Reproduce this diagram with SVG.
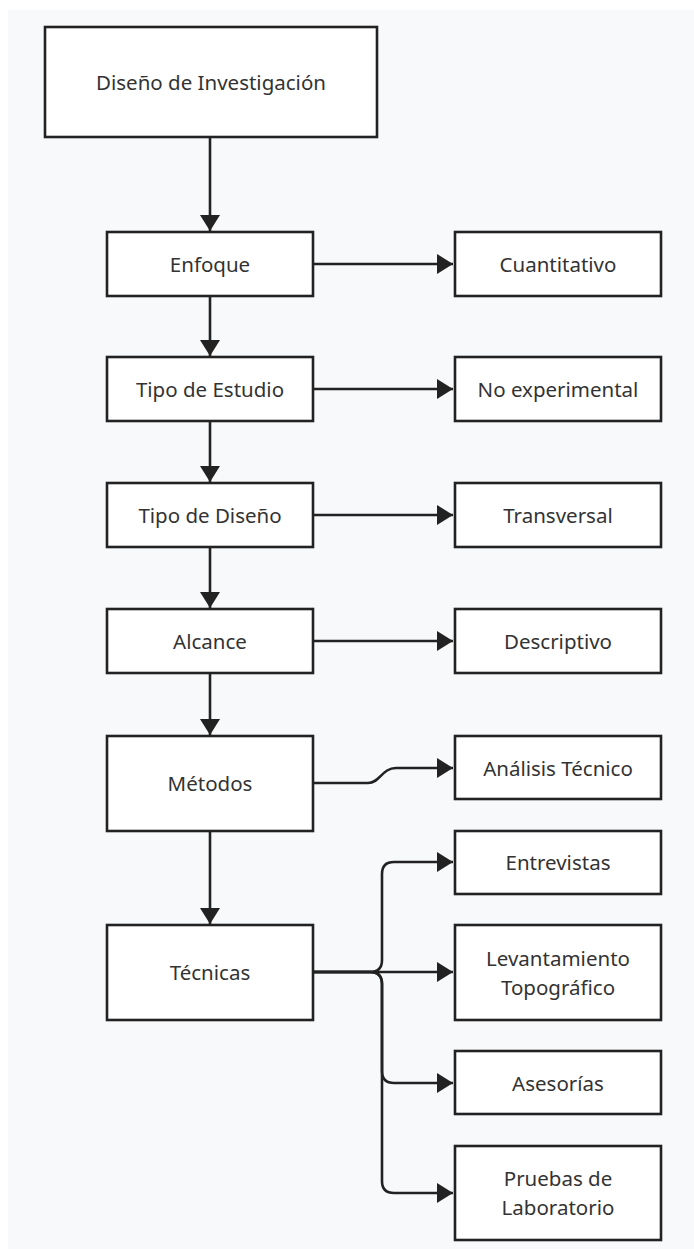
<svg xmlns="http://www.w3.org/2000/svg" width="694" height="1249" viewBox="0 0 694 1249">
<style>
.box{fill:#ffffff;stroke:#222222;stroke-width:2.6}
.lbl{font-family:"Noto Sans","Open Sans","DejaVu Sans",sans-serif;font-size:20.5px;fill:#333333;text-anchor:middle;dominant-baseline:central}
.edge{fill:none;stroke:#222222;stroke-width:2.6}
</style>
<defs>
<marker id="arr" markerUnits="userSpaceOnUse" markerWidth="16" markerHeight="20" viewBox="0 0 16 20" refX="16" refY="10" orient="auto">
<path d="M0,0 L16,10 L0,20 z" fill="#222222"/>
</marker>
</defs>
<rect x="0" y="0" width="694" height="1249" fill="#ffffff"/>
<rect x="8" y="10" width="686" height="1239" fill="#f8f9fb"/>
<g id="connectors">
<path class="edge" d="M210,137 L210,231" marker-end="url(#arr)"/>
<path class="edge" d="M210,296 L210,356" marker-end="url(#arr)"/>
<path class="edge" d="M210,421 L210,482" marker-end="url(#arr)"/>
<path class="edge" d="M210,547 L210,608" marker-end="url(#arr)"/>
<path class="edge" d="M210,673 L210,735" marker-end="url(#arr)"/>
<path class="edge" d="M210,831 L210,924" marker-end="url(#arr)"/>
<path class="edge" d="M313,264 L453,264" marker-end="url(#arr)"/>
<path class="edge" d="M313,389 L453,389" marker-end="url(#arr)"/>
<path class="edge" d="M313,515 L453,515" marker-end="url(#arr)"/>
<path class="edge" d="M313,641 L453,641" marker-end="url(#arr)"/>
<path class="edge" d="M313,783 L368,783 C380,783 382,768 396,768 L453,768" marker-end="url(#arr)"/>
<path class="edge" d="M313,972 L453,972" marker-end="url(#arr)"/>
<path class="edge" d="M313,972 L370,972 Q382,972 382,960 L382,874 Q382,862 394,862 L453,862" marker-end="url(#arr)"/>
<path class="edge" d="M313,972 L370,972 Q382,972 382,984 L382,1071 Q382,1083 394,1083 L453,1083" marker-end="url(#arr)"/>
<path class="edge" d="M313,972 L370,972 Q382,972 382,984 L382,1181 Q382,1193 394,1193 L453,1193" marker-end="url(#arr)"/>
</g>
<g id="n-diseno"><rect class="box" x="45" y="27" width="332" height="110"/><text class="lbl" x="211" y="82">Diseño de Investigación</text></g>
<g id="n-enfoque"><rect class="box" x="107" y="232" width="206" height="64"/><text class="lbl" x="210" y="264">Enfoque</text></g>
<g id="n-tipoestudio"><rect class="box" x="107" y="357" width="206" height="64"/><text class="lbl" x="210" y="389">Tipo de Estudio</text></g>
<g id="n-tipodiseno"><rect class="box" x="107" y="483" width="206" height="64"/><text class="lbl" x="210" y="515">Tipo de Diseño</text></g>
<g id="n-alcance"><rect class="box" x="107" y="609" width="206" height="64"/><text class="lbl" x="210" y="641">Alcance</text></g>
<g id="n-metodos"><rect class="box" x="107" y="736" width="206" height="95"/><text class="lbl" x="210" y="783">Métodos</text></g>
<g id="n-tecnicas"><rect class="box" x="107" y="925" width="206" height="95"/><text class="lbl" x="210" y="972">Técnicas</text></g>
<g id="n-cuantitativo"><rect class="box" x="455" y="232" width="206" height="64"/><text class="lbl" x="558" y="264">Cuantitativo</text></g>
<g id="n-noexp"><rect class="box" x="455" y="357" width="206" height="64"/><text class="lbl" x="558" y="389">No experimental</text></g>
<g id="n-transversal"><rect class="box" x="455" y="483" width="206" height="64"/><text class="lbl" x="558" y="515">Transversal</text></g>
<g id="n-descriptivo"><rect class="box" x="455" y="609" width="206" height="64"/><text class="lbl" x="558" y="641">Descriptivo</text></g>
<g id="n-analisis"><rect class="box" x="455" y="736" width="206" height="63"/><text class="lbl" x="558" y="768">Análisis Técnico</text></g>
<g id="n-entrevistas"><rect class="box" x="455" y="831" width="206" height="63"/><text class="lbl" x="558" y="862">Entrevistas</text></g>
<g id="n-levantamiento"><rect class="box" x="455" y="925" width="206" height="95"/><text class="lbl" x="558" y="958">Levantamiento</text><text class="lbl" x="558" y="987">Topográfico</text></g>
<g id="n-asesorias"><rect class="box" x="455" y="1051" width="206" height="63"/><text class="lbl" x="558" y="1083">Asesorías</text></g>
<g id="n-pruebas"><rect class="box" x="455" y="1146" width="206" height="94"/><text class="lbl" x="558" y="1178">Pruebas de</text><text class="lbl" x="558" y="1207">Laboratorio</text></g>
</svg>
